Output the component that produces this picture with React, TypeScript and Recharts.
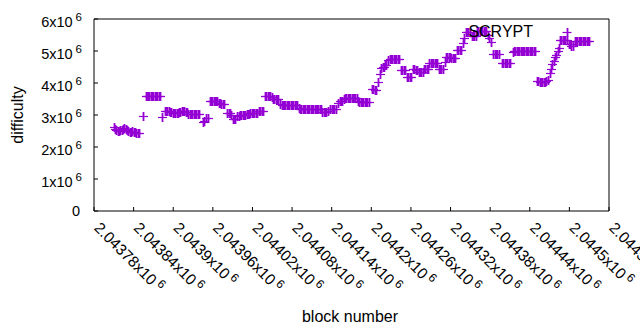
import { ScatterChart, Scatter, XAxis, YAxis, Legend } from 'recharts'

const PURPLE = '#9400d3'
const FONT = '"Liberation Sans", Arial, sans-serif'

// block number of each sample
const blocks = [
  2043810, 2043812, 2043814, 2043816, 2043818, 2043820, 2043822, 2043824, 2043826, 2043828,
  2043830, 2043832, 2043834, 2043836, 2043838, 2043840, 2043842, 2043844, 2043846, 2043848,
  2043854, 2043858, 2043860, 2043862, 2043864, 2043866, 2043868, 2043870, 2043872, 2043874,
  2043876, 2043878, 2043880, 2043883,
  2043887, 2043889, 2043891, 2043893, 2043895, 2043897, 2043899, 2043901, 2043903, 2043905,
  2043907, 2043909, 2043911, 2043913, 2043915, 2043917, 2043919, 2043921, 2043923, 2043925,
  2043927, 2043929, 2043931, 2043933, 2043935, 2043937, 2043939,
  2043945, 2043947, 2043950, 2043952, 2043955, 2043957, 2043959, 2043961, 2043963, 2043965,
  2043967, 2043969, 2043971, 2043973, 2043975, 2043977,
  2043982, 2043984, 2043986, 2043988, 2043990, 2043992, 2043994, 2043997, 2043999, 2044001,
  2044003, 2044005, 2044007, 2044009, 2044011, 2044013, 2044015, 2044017, 2044019, 2044021,
  2044023, 2044025, 2044027, 2044030, 2044032, 2044034, 2044036,
  2044039, 2044041, 2044043, 2044045, 2044047, 2044049, 2044051, 2044053, 2044055, 2044057,
  2044059, 2044062, 2044064, 2044066, 2044068, 2044070, 2044072, 2044074, 2044076, 2044078,
  2044080, 2044082, 2044084, 2044086, 2044088,
  2044090, 2044092, 2044094, 2044096, 2044098, 2044100, 2044102, 2044104, 2044106, 2044108,
  2044110, 2044112, 2044114, 2044116, 2044118, 2044120, 2044122, 2044124, 2044126, 2044128,
  2044130, 2044132, 2044134, 2044138, 2044140, 2044142, 2044144, 2044146,
  2044149, 2044152, 2044154, 2044156, 2044158, 2044160, 2044162, 2044164, 2044166, 2044168,
  2044170, 2044172, 2044174, 2044176, 2044178, 2044180, 2044182, 2044184, 2044186, 2044188,
  2044190, 2044192, 2044194, 2044196,
  2044201, 2044203, 2044205, 2044207, 2044210, 2044213, 2044215, 2044217, 2044219, 2044221,
  2044223, 2044226, 2044228, 2044230, 2044232, 2044234, 2044236, 2044238, 2044240, 2044242,
  2044245, 2044247, 2044249, 2044251, 2044254, 2044256, 2044258, 2044260, 2044263, 2044265,
  2044267, 2044269, 2044272, 2044274, 2044276, 2044278, 2044280, 2044282, 2044284, 2044286,
  2044288, 2044290, 2044292, 2044294, 2044296, 2044298, 2044300, 2044302, 2044304, 2044306,
  2044308, 2044311, 2044313, 2044315, 2044317, 2044319, 2044321, 2044323, 2044325, 2044327,
  2044330, 2044332, 2044334, 2044336,
  2044339, 2044341, 2044343, 2044345, 2044347, 2044349, 2044352, 2044354, 2044356, 2044358,
  2044360, 2044362, 2044364, 2044366, 2044368, 2044370, 2044372, 2044374, 2044377, 2044379,
  2044382,
  2044385, 2044387, 2044389, 2044391, 2044393, 2044398, 2044400, 2044402, 2044404, 2044406,
  2044408, 2044410, 2044414, 2044416, 2044418, 2044420, 2044422, 2044424, 2044426, 2044428,
  2044430, 2044432, 2044434, 2044436, 2044438, 2044440, 2044442, 2044444, 2044446, 2044448,
  2044451, 2044453, 2044455, 2044457, 2044459, 2044461, 2044463, 2044465, 2044467, 2044470,
  2044472, 2044474, 2044476, 2044478, 2044480, 2044482, 2044484,
  2044486, 2044488, 2044490, 2044492, 2044494, 2044496, 2044499, 2044501, 2044503, 2044505,
  2044508, 2044510, 2044512, 2044514, 2044516, 2044518, 2044520, 2044522, 2044524, 2044526,
  2044528, 2044530,
]

// difficulty at each block
const difficulty = [
  2620000, 2550000, 2530000, 2500000, 2500000, 2520000, 2530000, 2560000, 2580000, 2560000,
  2520000, 2500000, 2470000, 2480000, 2500000, 2470000, 2470000, 2440000, 2440000, 2440000,
  2970000, 3590000, 3590000, 3590000, 3590000, 3590000, 3590000, 3590000, 3590000, 3590000,
  3590000, 3590000, 3590000, 2930000,
  3120000, 3120000, 3120000, 3120000, 3090000, 3090000, 3060000, 3060000, 3060000, 3060000,
  3060000, 3090000, 3090000, 3120000, 3120000, 3120000, 3090000, 3090000, 3030000, 3030000,
  3030000, 3030000, 3030000, 3030000, 3030000, 3030000, 3030000,
  2780000, 2800000, 2920000, 2920000, 3440000, 3440000, 3440000, 3440000, 3440000, 3440000,
  3440000, 3370000, 3370000, 3340000, 3340000, 3340000,
  3060000, 3060000, 3060000, 3000000, 2890000, 2890000, 2890000, 2970000, 2970000, 3000000,
  3000000, 3000000, 3000000, 3000000, 3030000, 3030000, 3030000, 3060000, 3060000, 3060000,
  3060000, 3060000, 3060000, 3120000, 3120000, 3120000, 3120000,
  3590000, 3590000, 3590000, 3590000, 3590000, 3560000, 3500000, 3500000, 3500000, 3500000,
  3500000, 3340000, 3310000, 3310000, 3310000, 3310000, 3310000, 3310000, 3310000, 3310000,
  3310000, 3310000, 3310000, 3310000, 3310000,
  3220000, 3190000, 3190000, 3190000, 3190000, 3190000, 3190000, 3190000, 3190000, 3190000,
  3190000, 3190000, 3190000, 3190000, 3190000, 3190000, 3190000, 3190000, 3090000, 3090000,
  3090000, 3090000, 3120000, 3190000, 3190000, 3190000, 3190000, 3190000,
  3370000, 3440000, 3440000, 3440000, 3500000, 3530000, 3530000, 3530000, 3530000, 3530000,
  3530000, 3530000, 3530000, 3530000, 3530000, 3440000, 3400000, 3400000, 3400000, 3400000,
  3400000, 3400000, 3400000, 3400000,
  3800000, 3800000, 3780000, 3780000, 4030000, 4280000, 4470000, 4500000, 4500000, 4560000,
  4560000, 4720000, 4750000, 4750000, 4750000, 4750000, 4750000, 4750000, 4750000, 4750000,
  4400000, 4400000, 4400000, 4400000, 4200000, 4200000, 4200000, 4200000, 4440000, 4440000,
  4410000, 4410000, 4340000, 4340000, 4340000, 4340000, 4440000, 4440000, 4440000, 4440000,
  4640000, 4640000, 4640000, 4640000, 4640000, 4640000, 4640000, 4440000, 4440000, 4440000,
  4440000, 4660000, 4810000, 4810000, 4810000, 4810000, 4780000, 4780000, 4780000, 4780000,
  5030000, 5030000, 5030000, 5030000,
  5250000, 5400000, 5600000, 5600000, 5600000, 5600000, 5470000, 5470000, 5470000, 5470000,
  5630000, 5630000, 5630000, 5630000, 5630000, 5630000, 5630000, 5630000, 5500000, 5400000,
  5280000,
  4910000, 4910000, 4910000, 4910000, 4910000, 4630000, 4630000, 4630000, 4630000, 4630000,
  4630000, 4630000, 4980000, 5000000, 5000000, 5000000, 5000000, 5000000, 5000000, 5000000,
  5000000, 5000000, 5000000, 5000000, 5000000, 5000000, 5000000, 5000000, 5000000, 5000000,
  4060000, 4050000, 4030000, 4030000, 4030000, 4030000, 4030000, 4060000, 4090000, 4300000,
  4450000, 4600000, 4700000, 4800000, 4880000, 5000000, 5100000,
  5340000, 5340000, 5340000, 5340000, 5340000, 5340000, 5220000, 5220000, 5160000, 5160000,
  5310000, 5310000, 5310000, 5310000, 5310000, 5310000, 5310000, 5310000, 5310000, 5310000,
  5310000, 5310000,
]

const xTicks = [
  2043780, 2043840, 2043900, 2043960, 2044020, 2044080, 2044140,
  2044200, 2044260, 2044320, 2044380, 2044440, 2044500, 2044560,
]
const xTickLabels = [
  '2.04378', '2.04384', '2.0439', '2.04396', '2.04402', '2.04408', '2.04414',
  '2.0442', '2.04426', '2.04432', '2.04438', '2.04444', '2.0445', '2.04456',
]
const yTicks = [0, 1000000, 2000000, 3000000, 4000000, 5000000, 6000000]
const yTickLabels = ['0', '1', '2', '3', '4', '5', '6']

const data = blocks.map((b, i) => ({ block: b, difficulty: difficulty[i] }))

// gnuplot style "+" point: 9px arms, slightly heavier vertical stroke
const Plus = (props: any) => {
  const cx = Math.round(props.cx)
  const cy = Math.round(props.cy) + 0.5
  return (
    <g stroke={PURPLE} fill="none">
      <path d={`M${cx - 4} ${cy}h9`} strokeWidth={1.2} />
      <path d={`M${cx + 0.5} ${cy - 4.5}v9`} strokeWidth={1.8} />
    </g>
  )
}

const BottomTick = (props: any) => {
  const { x, y, index } = props
  const tx = x + 3
  const ty = y + 14
  return (
    <g>
      <line x1={x} y1={y} x2={x} y2={y - 4} stroke="#000" />
      <text
        x={tx}
        y={ty}
        dy="0.35em"
        transform={`rotate(45 ${tx} ${ty})`}
        fontSize={15.5}
        fontFamily={FONT}
        fill="#000"
        textAnchor="start"
      >
        {xTickLabels[index]}x10
        <tspan dx={3} dy="-0.45em" fontSize={12}>6</tspan>
      </text>
    </g>
  )
}

const LeftTick = (props: any) => {
  const { x, y, index } = props
  const label = yTickLabels[index]
  return (
    <g>
      <line x1={x} y1={y} x2={x + 4} y2={y} stroke="#000" />
      {label === '0' ? (
        <text x={x - 14} y={y} dy="0.35em" textAnchor="end" fontSize={14.5} fontFamily={FONT} fill="#000">0</text>
      ) : (
        <text x={x - 12} y={y + 3} dy="0.35em" textAnchor="end" fontSize={14.5} fontFamily={FONT} fill="#000">
          {label}x10
          <tspan dx={3} dy="-0.55em" fontSize={11.5}>6</tspan>
        </text>
      )}
    </g>
  )
}

const TopTick = (props: any) => (
  <line x1={props.x} y1={props.y} x2={props.x} y2={props.y + 4} stroke="#000" />
)

const RightTick = (props: any) => (
  <line x1={props.x} y1={props.y} x2={props.x - 4} y2={props.y} stroke="#000" />
)

const KeyBox = (props: any) => {
  const name = props.payload?.[0]?.value ?? 'SCRYPT'
  return (
    <div style={{ display: 'flex', justifyContent: 'flex-end', alignItems: 'center', fontFamily: FONT, fontSize: 16, color: '#000', height: 20 }}>
      <span style={{ marginRight: 25 }}>{name}</span>
      <svg width={18} height={18}>
        <path d="M4.5 9.5h9" stroke={PURPLE} strokeWidth={1.2} />
        <path d="M9.5 5v9" stroke={PURPLE} strokeWidth={1.8} />
      </svg>
    </div>
  )
}

export default function App() {
  return (
    <div>
      <style>{'body{margin:0}'}</style>
      <ScatterChart width={640} height={330} margin={{ top: 0, right: 0, bottom: 0, left: 0 }}>
        <XAxis
          dataKey="block"
          type="number"
          domain={[2043780, 2044560]}
          ticks={xTicks}
          interval={0}
          height={119}
          tickSize={0}
          tickMargin={0}
          tickLine={false}
          axisLine={{ stroke: '#000' }}
          tick={<BottomTick />}
          label={{
            value: 'block number',
            content: (p: any) => (
              <text x={350} y={p.viewBox.y + 105} dy="0.35em" textAnchor="middle" fontSize={16} fontFamily={FONT} fill="#000">block number</text>
            ),
          }}
        />
        <XAxis
          xAxisId="top"
          orientation="top"
          type="number"
          domain={[2043780, 2044560]}
          ticks={xTicks}
          interval={0}
          height={19}
          tickSize={0}
          tickMargin={0}
          tickLine={false}
          axisLine={{ stroke: '#000' }}
          tick={<TopTick />}
        />
        <YAxis
          dataKey="difficulty"
          type="number"
          domain={[0, 6000000]}
          ticks={yTicks}
          interval={0}
          width={94}
          tickSize={0}
          tickMargin={0}
          tickLine={false}
          axisLine={{ stroke: '#000' }}
          tick={<LeftTick />}
          label={{
            value: 'difficulty',
            content: (p: any) => {
              const cy = p.viewBox.y + p.viewBox.height / 2
              return (
                <text x={17} y={cy} dy="0.35em" textAnchor="middle" transform={`rotate(-90 17 ${cy})`} fontSize={16} fontFamily={FONT} fill="#000">difficulty</text>
              )
            },
          }}
        />
        <YAxis
          yAxisId="right"
          orientation="right"
          type="number"
          domain={[0, 6000000]}
          ticks={yTicks}
          interval={0}
          width={31}
          tickSize={0}
          tickMargin={0}
          tickLine={false}
          axisLine={{ stroke: '#000' }}
          tick={<RightTick />}
        />
        <Legend
          layout="horizontal"
          align="center"
          verticalAlign="middle"
          content={<KeyBox />}
          wrapperStyle={{ top: 22, left: 400, width: 176, height: 20 }}
        />
        <Scatter name="SCRYPT" data={data} fill={PURPLE} shape={<Plus />} isAnimationActive={false} />
      </ScatterChart>
    </div>
  )
}
